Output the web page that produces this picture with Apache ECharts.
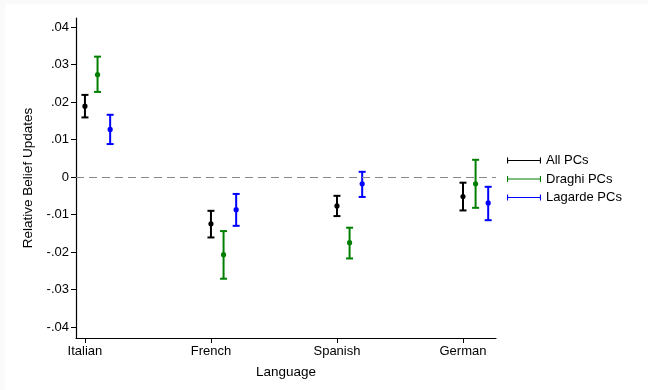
<!DOCTYPE html>
<html><head><meta charset="utf-8">
<script src="https://cdn.jsdelivr.net/npm/echarts@6/dist/echarts.min.js"></script>
<style>html,body{margin:0;padding:0;background:#fafafa;}#c{width:648px;height:390px;}</style>
</head><body><div id="c"></div>
<script>
const categories = ['Italian', 'French', 'Spanish', 'German'];
const seriesNames = ['All PCs', 'Draghi PCs', 'Lagarde PCs'];
const seriesColors = ['#000000', '#007f00', '#0000ff'];
const offsets = [0, 0.1, 0.2];
// point estimates per language
const allEst = [0.0189, -0.01245, -0.0077, -0.0052];
const allLo = [0.0159, -0.0161, -0.0104, -0.0089];
const allHi = [0.0219, -0.0090, -0.0050, -0.0015];
const draghiEst = [0.0273, -0.0207, -0.0175, -0.0018];
const draghiLo = [0.0227, -0.0271, -0.0217, -0.0082];
const draghiHi = [0.0321, -0.0144, -0.0135, 0.0046];
const lagardeEst = [0.0127, -0.0087, -0.0018, -0.0069];
const lagardeLo = [0.0088, -0.0130, -0.0053, -0.0115];
const lagardeHi = [0.0166, -0.0045, 0.0014, -0.0026];
const yTicks = [-0.04, -0.03, -0.02, -0.01, 0, 0.01, 0.02, 0.03, 0.04];
const xTicks = [1, 2, 3, 4];

const groups = [[allEst, allLo, allHi], [draghiEst, draghiLo, draghiHi], [lagardeEst, lagardeLo, lagardeHi]];

function fmtY(v) {
  if (Math.abs(v) < 1e-9) return '0';
  const s = Math.abs(v).toFixed(2).replace(/^0/, '');
  return (v < 0 ? '-' : '') + s;
}

const series = groups.map((g, si) => ({
  name: seriesNames[si],
  type: 'custom',
  data: categories.map((c, i) => [i + 1 + offsets[si], g[0][i], g[1][i], g[2][i]]),
  encode: { x: 0, y: [1, 2, 3] },
  renderItem: function (params, api) {
    const x = api.value(0);
    const p = api.coord([x, api.value(1)]);
    const lo = api.coord([x, api.value(2)]);
    const hi = api.coord([x, api.value(3)]);
    const col = seriesColors[si];
    const st = { stroke: col, lineWidth: 2 };
    const cw = 3.5;
    return {
      type: 'group',
      children: [
        { type: 'line', shape: { x1: p[0], y1: lo[1], x2: p[0], y2: hi[1] }, style: st },
        { type: 'line', shape: { x1: p[0] - cw, y1: lo[1], x2: p[0] + cw, y2: lo[1] }, style: st },
        { type: 'line', shape: { x1: p[0] - cw, y1: hi[1], x2: p[0] + cw, y2: hi[1] }, style: st },
        { type: 'circle', shape: { cx: p[0], cy: p[1], r: 2.6 }, style: { fill: col } }
      ]
    };
  },
  itemStyle: { color: seriesColors[si] },
  z: 3
}));

series.push({
  type: 'line',
  data: [],
  markLine: {
    silent: true,
    symbol: ['none', 'none'],
    label: { show: false },
    lineStyle: { color: '#888888', type: [8, 5], width: 1.2 },
    data: [{ yAxis: 0 }]
  }
});

const option = {
  animation: false,
  backgroundColor: 'transparent',
  textStyle: { fontFamily: 'Liberation Sans, Arial, sans-serif' },
  graphic: [{ type: 'rect', shape: { x: 5, y: 4, width: 643, height: 386 }, style: { fill: '#ffffff' }, z: -10, silent: true }],
  grid: { left: 76, top: 18, width: 420, height: 320, containLabel: false },
  legend: {
    orient: 'vertical',
    left: 502,
    top: 149,
    itemWidth: 34,
    itemHeight: 6,
    itemGap: 5.5,
    data: seriesNames.map((n, i) => ({
      name: n,
      icon: 'path://M0,0 L1.1,0 L1.1,2.5 L32.9,2.5 L32.9,0 L34,0 L34,6 L32.9,6 L32.9,3.5 L1.1,3.5 L1.1,6 L0,6 Z',
      itemStyle: { color: seriesColors[i] }
    })),
    textStyle: { fontSize: 13, color: '#000', fontFamily: 'Liberation Sans, Arial, sans-serif' }
  },
  xAxis: {
    type: 'value',
    min: 0.929,
    max: 4.262,
    name: 'Language',
    nameLocation: 'middle',
    nameGap: 27,
    nameTextStyle: { fontSize: 13.5, color: '#000' },
    axisLine: { onZero: false, lineStyle: { color: '#000', width: 1.2 } },
    splitLine: { show: false },
    axisTick: { length: 5, customValues: xTicks, lineStyle: { color: '#000' } },
    axisLabel: {
      customValues: xTicks,
      fontSize: 13, color: '#000', margin: 7,
      formatter: v => categories[Math.round(v) - 1]
    }
  },
  yAxis: {
    type: 'value',
    min: -0.0429,
    max: 0.0424,
    name: 'Relative Belief Updates',
    nameLocation: 'middle',
    nameGap: 41,
    nameRotate: 90,
    nameTextStyle: { fontSize: 13.5, color: '#000' },
    axisLine: { show: true, onZero: false, lineStyle: { color: '#000', width: 1.2 } },
    splitLine: { show: false },
    axisTick: { show: true, length: 5, customValues: yTicks, lineStyle: { color: '#000' } },
    axisLabel: { customValues: yTicks, fontSize: 13, color: '#000', margin: 7, formatter: fmtY }
  },
  series: series
};

const chart = echarts.init(document.getElementById('c'), null, { renderer: 'canvas' });
chart.setOption(option);
</script>
</body></html>
